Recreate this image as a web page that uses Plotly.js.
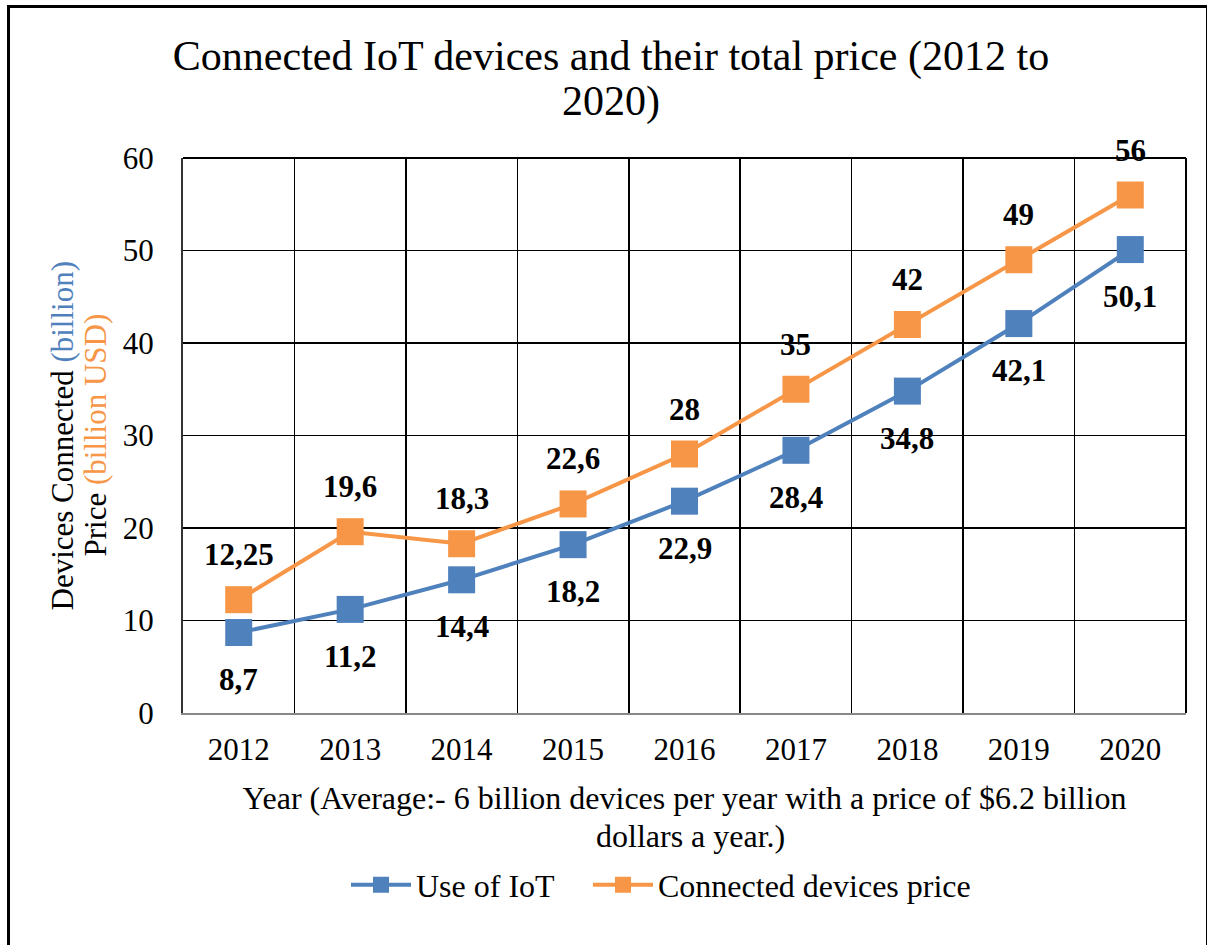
<!DOCTYPE html>
<html>
<head>
<meta charset="utf-8">
<script src="https://cdn.plot.ly/plotly-3.0.1.min.js"></script>
<style>
html,body{margin:0;padding:0;background:#fff;}
#wrap{position:relative;width:1207px;height:945px;}
#chart{position:absolute;left:0;top:0;width:1207px;height:945px;}
#frame{position:absolute;left:7px;top:5px;width:1196px;height:950px;border:3px solid #000;border-bottom:none;pointer-events:none;}
</style>
</head>
<body>
<div id="wrap"><div id="chart"></div><div id="frame"></div></div>
<script>
const years = ['2012','2013','2014','2015','2016','2017','2018','2019','2020'];
const useOfIoT = [8.7, 11.2, 14.4, 18.2, 22.9, 28.4, 34.8, 42.1, 50.1];
const devicesPrice = [12.25, 19.6, 18.3, 22.6, 28, 35, 42, 49, 56];
const yTicks = [0, 10, 20, 30, 40, 50, 60];

const BLUE = '#4F81BD';
const ORANGE = '#F79646';
const FONT = 'Liberation Serif, Times New Roman, serif';

const fmt = v => String(v).replace('.', ',');

const traces = [
  {
    x: years, y: useOfIoT, name: 'Use of IoT', type: 'scatter', mode: 'lines+markers',
    line: {color: BLUE, width: 4},
    marker: {symbol: 'square', size: 27, color: BLUE},
    legend: 'legend',
    hoverinfo: 'x+y'
  },
  {
    x: years, y: devicesPrice, name: 'Connected devices price', type: 'scatter', mode: 'lines+markers',
    line: {color: ORANGE, width: 4},
    marker: {symbol: 'square', size: 27, color: ORANGE},
    legend: 'legend2',
    hoverinfo: 'x+y'
  }
];

const annotations = [];
years.forEach((yr, i) => {
  annotations.push({x: i, y: useOfIoT[i], xref: 'x', yref: 'y', text: '<b>' + fmt(useOfIoT[i]) + '</b>',
    showarrow: false, yshift: -47, font: {family: FONT, size: 31, color: '#000'}});
  annotations.push({x: i, y: devicesPrice[i], xref: 'x', yref: 'y', text: '<b>' + fmt(devicesPrice[i]) + '</b>',
    showarrow: false, yshift: 45, font: {family: FONT, size: 31, color: '#000'}});
});
annotations.push({xref: 'paper', yref: 'paper', x: 0, y: 0.5, xanchor: 'center', yanchor: 'middle', xshift: -121, textangle: -90, showarrow: false,
  text: 'Devices Connected <span style="fill:' + BLUE + '">(billion)</span>',
  font: {family: FONT, size: 31, color: '#000'}});
annotations.push({xref: 'paper', yref: 'paper', x: 0, y: 0.5, xanchor: 'center', yanchor: 'middle', xshift: -88, textangle: -90, showarrow: false,
  text: 'Price <span style="fill:' + ORANGE + '">(billion USD)</span>',
  font: {family: FONT, size: 31, color: '#000'}});
// second line of the chart title
annotations.push({xref: 'paper', yref: 'paper', x: (611 - 183) / 1003, y: (713 - 102) / 555, xanchor: 'center', yanchor: 'middle',
  showarrow: false, text: '2020)', font: {family: FONT, size: 42, color: '#000'}});
// second line of the x-axis title
annotations.push({xref: 'paper', yref: 'paper', x: (690 - 183) / 1003, y: (713 - 836) / 555, xanchor: 'center', yanchor: 'middle',
  showarrow: false, text: 'dollars a year.)', font: {family: FONT, size: 32, color: '#000'}});

const legendBase = {orientation: 'h', xanchor: 'left', y: -0.31, yanchor: 'middle',
  font: {family: FONT, size: 32, color: '#000'}, itemwidth: 60, bgcolor: 'rgba(0,0,0,0)'};

const layout = {
  width: 1207, height: 945,
  margin: {l: 183, r: 21, t: 158, b: 232},
  paper_bgcolor: '#fff', plot_bgcolor: '#fff',
  font: {family: FONT, size: 31, color: '#000'},
  showlegend: true,
  title: {text: 'Connected IoT devices and their total price (2012 to',
    font: {family: FONT, size: 42, color: '#000'}, x: 611 / 1207, xanchor: 'center', xref: 'container',
    y: 1 - 55 / 945, yanchor: 'middle', yref: 'container'},
  xaxis: {
    type: 'category', range: [-0.5, 8.5], tickson: 'boundaries',
    showgrid: true, gridcolor: '#000', gridwidth: 1.5,
    showline: true, linecolor: '#888', linewidth: 2, mirror: false,
    ticks: '', ticklabelstandoff: 8,
    tickfont: {family: FONT, size: 31, color: '#000'},
    title: {text: 'Year (Average:- 6 billion devices per year with a price of $6.2 billion',
      font: {family: FONT, size: 32, color: '#000'}, standoff: 20},
    fixedrange: true
  },
  yaxis: {
    range: [0, 60], tickvals: yTicks, ticktext: yTicks.map(String),
    showgrid: true, gridcolor: '#000', gridwidth: 1.5, zeroline: false,
    showline: true, linecolor: '#333', linewidth: 2, mirror: false,
    ticks: '', ticklabelstandoff: 21,
    tickfont: {family: FONT, size: 31, color: '#000'},
    fixedrange: true
  },
  legend: Object.assign({}, legendBase, {x: (346 - 183) / 1003}),
  legend2: Object.assign({}, legendBase, {x: (588 - 183) / 1003}),
  shapes: [
    {type: 'line', xref: 'paper', yref: 'paper', x0: 0, x1: 1, y0: 1, y1: 1, line: {color: '#000', width: 2}},
    {type: 'line', xref: 'paper', yref: 'paper', x0: 1, x1: 1, y0: 0, y1: 1, line: {color: '#000', width: 2}}
  ],
  annotations: annotations
};

Plotly.newPlot('chart', traces, layout, {displayModeBar: false, staticPlot: true});
</script>
</body>
</html>
